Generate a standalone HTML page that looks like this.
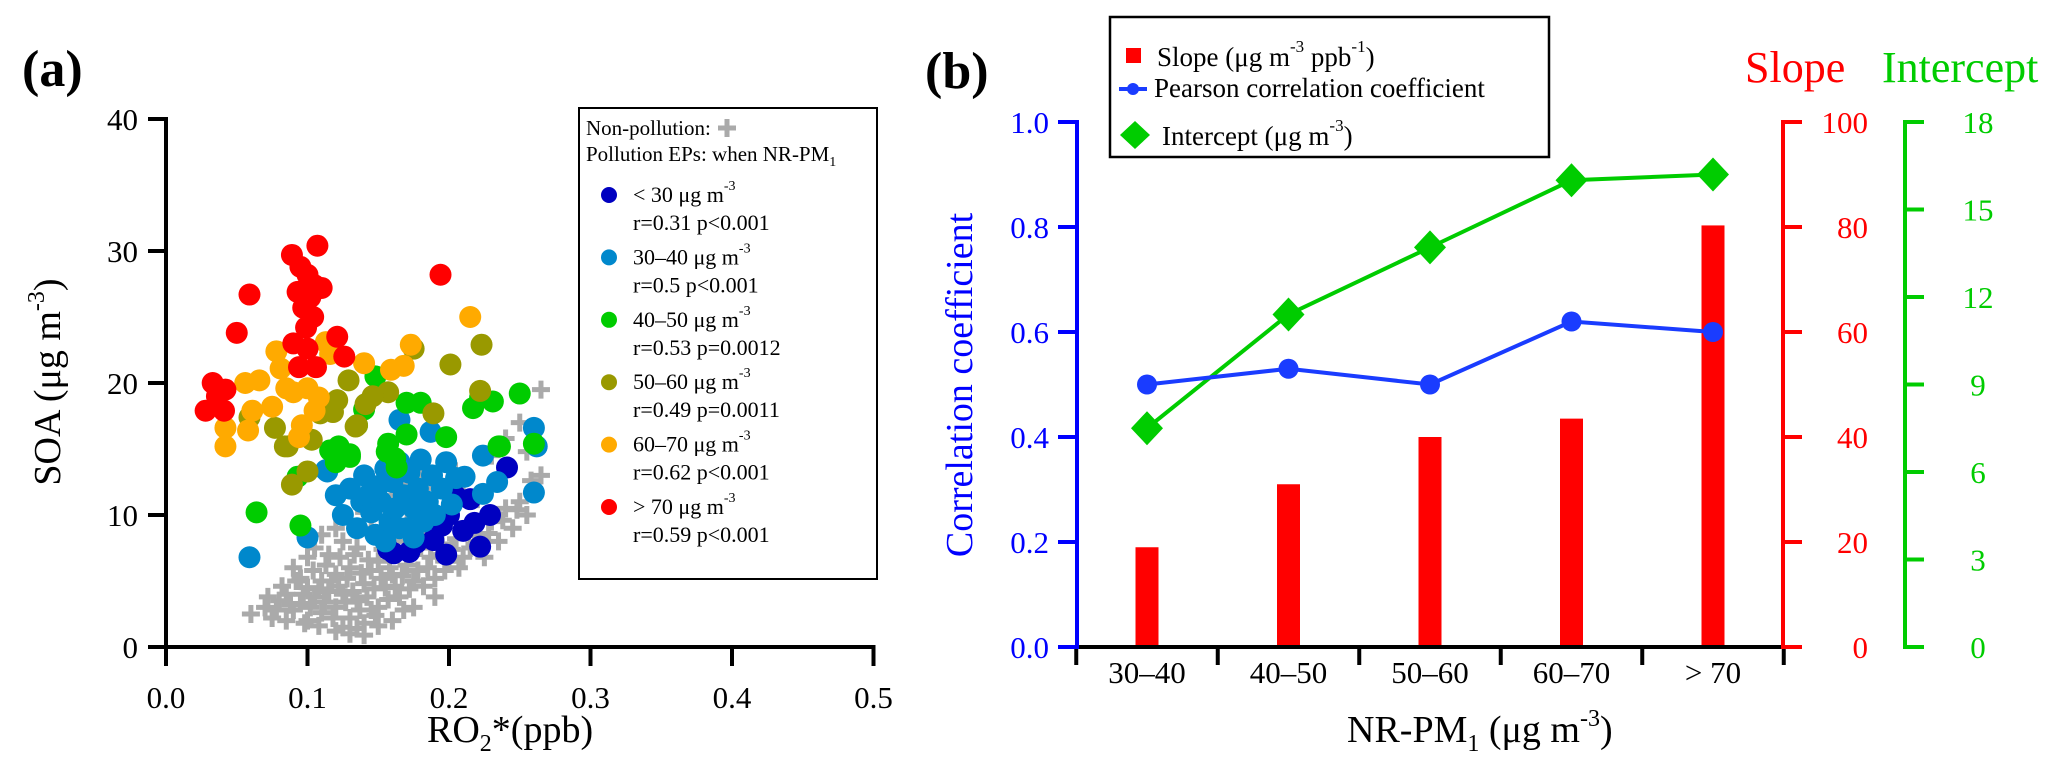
<!DOCTYPE html>
<html><head><meta charset="utf-8"><style>
html,body{margin:0;padding:0;background:#fff}
svg{display:block;font-family:"Liberation Serif",serif}
</style></head><body>
<svg id="fig" width="2067" height="770" viewBox="0 0 2067 770" xmlns="http://www.w3.org/2000/svg">
<g id="pa">
 <text x="22" y="86" font-size="52" font-weight="bold">(a)</text>
 <g id="pa-marks"></g>
 <line x1="166" y1="117" x2="166" y2="649" stroke="#000" stroke-width="4"/>
 <line x1="164" y1="647" x2="875" y2="647" stroke="#000" stroke-width="4"/>
 <g id="pa-axes"></g>
 <text transform="translate(60,382) rotate(-90)" text-anchor="middle" font-size="38">SOA (μg m<tspan dy="-16" font-size="24">-3</tspan><tspan dy="16">)</tspan></text>
 <text x="427" y="742" font-size="38">RO<tspan dy="9" font-size="24">2</tspan><tspan dy="-9">*(ppb)</tspan></text>
 <g>
  <rect x="579" y="108" width="298" height="471" fill="#fff" stroke="#000" stroke-width="2"/>
  <text x="586" y="135" font-size="21">Non-pollution:</text>
  <path d="M718 128h18M727 119v18" stroke="#aaa" stroke-width="5"/>
  <text x="586" y="161" font-size="21">Pollution EPs: when NR-PM<tspan dy="5" font-size="14">1</tspan></text>
  <g id="legend-items"></g>
 </g>
</g>
<g id="pb">
 <text x="925" y="88" font-size="52" font-weight="bold">(b)</text>
 <g id="pb-marks"></g>
 <g id="pb-axes"></g>
 <text transform="translate(972,385) rotate(-90)" text-anchor="middle" font-size="38" fill="#0000ff">Correlation coefficient</text>
 <text x="1745" y="82" font-size="44" fill="#ff0000">Slope</text>
 <text x="1882" y="82" font-size="44" fill="#00cc00">Intercept</text>
 <text x="1347" y="742" font-size="38">NR-PM<tspan dy="9" font-size="24">1</tspan><tspan dy="-9"> (μg m</tspan><tspan dy="-16" font-size="24">-3</tspan><tspan dy="16">)</tspan></text>
 <g>
  <rect x="1110" y="17" width="439" height="140" fill="#fff" stroke="#000" stroke-width="2.5"/>
  <rect x="1126" y="48" width="15" height="15" fill="#ff0000"/>
  <text x="1157" y="66" font-size="27">Slope (μg m<tspan dy="-14" font-size="17">-3</tspan><tspan dy="14"> ppb</tspan><tspan dy="-14" font-size="17">-1</tspan><tspan dy="14">)</tspan></text>
  <line x1="1119" y1="89" x2="1147" y2="89" stroke="#1a3cff" stroke-width="4"/>
  <circle cx="1133" cy="89" r="6" fill="#1a3cff"/>
  <text x="1154" y="97" font-size="27">Pearson correlation coefficient</text>
  <path d="M1135 121l15 14l-15 14l-15-14z" fill="#00cc00"/>
  <text x="1162" y="145" font-size="27">Intercept (μg m<tspan dy="-14" font-size="17">-3</tspan><tspan dy="14">)</tspan></text>
 </g>
</g>
</svg>
<script>
// ---------- Panel (a) data ----------
const grayPts = [[0.06,2.5],[0.07,3.0],[0.075,2.2],[0.08,3.5],[0.085,4.0],[0.09,2.8],[0.095,3.3],[0.1,4.5],[0.1,2.0],[0.105,3.8],[0.11,5.0],[0.11,2.6],[0.115,4.2],[0.12,3.0],[0.12,5.5],[0.125,1.5],[0.125,4.0],[0.13,2.2],[0.13,6.0],[0.135,3.5],[0.14,4.8],[0.14,1.8],[0.145,5.8],[0.15,3.0],[0.15,6.5],[0.155,4.5],[0.16,5.5],[0.16,7.0],[0.165,3.8],[0.17,6.2],[0.175,5.0],[0.18,7.5],[0.185,6.0],[0.19,5.2],[0.195,7.8],[0.2,6.5],[0.205,8.2],[0.21,6.8],[0.215,7.5],[0.22,8.5],[0.225,6.8],[0.23,9.5],[0.235,8.0],[0.24,10.5],[0.245,9.0],[0.25,11.0],[0.255,10.0],[0.26,12.0],[0.09,6.0],[0.095,5.2],[0.1,6.8],[0.105,7.5],[0.11,8.5],[0.115,7.0],[0.12,9.0],[0.125,8.0],[0.13,9.5],[0.135,7.5],[0.14,10.2],[0.145,9.0],[0.15,8.2],[0.155,10.5],[0.16,11.5],[0.17,12.5],[0.175,9.8],[0.18,13.2],[0.19,12.0],[0.2,13.8],[0.21,12.5],[0.22,11.2],[0.23,14.5],[0.24,15.8],[0.25,17.0],[0.265,19.5],[0.255,14.8],[0.265,13.0],[0.14,0.9],[0.13,1.0],[0.175,3.0],[0.16,2.0],[0.19,3.8],[0.12,1.2],[0.085,2.0],
 [0.072,3.8],[0.078,2.8],[0.082,4.6],[0.088,3.2],[0.092,5.0],[0.097,4.0],[0.102,3.0],[0.104,5.8],[0.108,4.4],[0.112,3.4],[0.113,6.2],[0.117,5.0],[0.118,2.2],[0.122,4.6],[0.123,6.8],[0.127,3.4],[0.128,5.2],[0.132,4.2],[0.133,7.0],[0.137,2.8],[0.138,5.6],[0.142,3.8],[0.143,6.6],[0.147,4.4],[0.148,2.4],[0.152,5.2],[0.153,7.4],[0.157,3.6],[0.158,6.0],[0.162,4.6],[0.163,8.0],[0.167,5.4],[0.168,2.8],[0.172,4.4],[0.173,7.2],[0.178,5.8],[0.182,4.6],[0.183,8.4],[0.187,6.8],[0.192,7.0],[0.197,5.8],[0.202,7.4],[0.207,6.0],[0.212,8.8],[0.218,7.8],[0.228,8.6],[0.238,9.6],[0.248,10.4],[0.258,12.6],[0.098,1.8],[0.108,1.6],[0.135,1.4],[0.15,1.6],[0.145,2.8]];
const darkBluePts = [[0.222,7.6],[0.198,7.0],[0.172,7.2],[0.157,7.4],[0.229,10.0],[0.218,9.4],[0.205,11.4],[0.241,13.6],[0.189,8.1],[0.21,8.8],[0.177,7.9],[0.161,7.1],[0.195,9.2],[0.215,11.2],[0.2,10.0]];
const lightBluePts = [[0.059,6.8],[0.1,8.3],[0.114,13.3],[0.187,16.3],[0.224,14.5],[0.211,12.9],[0.224,11.6],[0.234,12.5],[0.165,17.2],[0.26,16.6],[0.262,15.2],[0.26,11.7],[0.113,13.4],
 [0.12,11.5],[0.125,10.0],[0.13,12.0],[0.135,9.0],[0.138,11.0],[0.14,13.0],[0.145,10.2],[0.148,8.5],[0.15,12.2],[0.152,11.0],[0.155,13.5],[0.158,9.5],[0.16,12.5],[0.162,10.5],[0.165,14.0],[0.168,11.5],[0.17,9.0],[0.172,13.2],[0.175,10.5],[0.178,12.0],[0.18,14.2],[0.182,9.5],[0.185,11.0],[0.188,13.0],[0.19,10.0],[0.195,12.0],[0.198,14.0],[0.202,10.8],[0.205,12.8],[0.145,11.8],[0.165,9.0],[0.175,8.3],[0.155,8.0],[0.18,11.2]];
const greenPts = [[0.064,10.2],[0.095,9.2],[0.163,13.6],[0.156,14.8],[0.17,16.1],[0.198,15.9],[0.235,15.2],[0.13,14.4],[0.116,14.9],[0.093,12.9],[0.148,20.5],[0.17,18.5],[0.18,18.5],[0.217,18.1],[0.222,18.9],[0.231,18.6],[0.25,19.2],[0.236,15.2],[0.26,15.4],[0.135,16.8],[0.122,15.2],[0.13,14.6],[0.157,15.4],[0.162,14.3],[0.12,14.0],[0.14,18.0]];
const olivePts = [[0.223,22.9],[0.201,21.4],[0.222,19.4],[0.189,17.7],[0.175,22.6],[0.157,19.3],[0.146,19.0],[0.135,16.8],[0.129,20.2],[0.121,18.7],[0.118,17.8],[0.077,16.6],[0.086,15.2],[0.089,12.3],[0.1,13.3],[0.103,15.7],[0.109,17.7],[0.059,17.4],[0.141,18.4],[0.134,16.7],[0.084,15.2]];
const orangePts = [[0.215,25.0],[0.173,22.9],[0.159,21.0],[0.168,21.3],[0.14,21.5],[0.113,23.1],[0.078,22.4],[0.056,20.0],[0.066,20.2],[0.061,17.9],[0.075,18.2],[0.042,16.6],[0.042,15.2],[0.058,16.4],[0.085,19.6],[0.1,19.6],[0.105,17.9],[0.096,16.8],[0.094,15.9],[0.081,21.1],[0.108,18.9],[0.09,19.3],[0.116,22.2]];
const redPts = [[0.107,30.4],[0.089,29.7],[0.095,28.8],[0.1,28.2],[0.105,27.4],[0.093,26.9],[0.102,26.5],[0.11,27.2],[0.097,25.7],[0.104,25.0],[0.099,24.2],[0.09,23.0],[0.1,22.6],[0.094,21.2],[0.106,21.2],[0.121,23.5],[0.126,22.0],[0.194,28.2],[0.059,26.7],[0.05,23.8],[0.033,20.0],[0.042,19.5],[0.028,17.9],[0.041,17.9],[0.036,19.0]];
const aXTicks = [0,0.1,0.2,0.3,0.4,0.5];
const aXTickLabels = ["0.0","0.1","0.2","0.3","0.4","0.5"];
const aYTicks = [0,10,20,30,40];
const legendLabels = ["< 30  μg m","30–40  μg m","40–50  μg m","50–60  μg m","60–70  μg m","> 70 μg m"];
const legendStats = ["r=0.31 p<0.001","r=0.5   p<0.001","r=0.53 p=0.0012","r=0.49 p=0.0011"," r=0.62 p<0.001"," r=0.59 p<0.001"];
// ---------- Panel (b) data ----------
const categories = ["30–40","40–50","50–60","60–70","> 70"];
const slopeVals = [19,31,40,43.5,80.3];
const corrVals = [0.50,0.53,0.50,0.62,0.60];
const interceptVals = [7.5,11.4,13.7,16.0,16.2];
const corrTicks = [0,0.2,0.4,0.6,0.8,1.0];
const slopeTicks = [0,20,40,60,80,100];
const interceptTicks = [0,3,6,9,12,15,18];

const NS="http://www.w3.org/2000/svg";
function mk(tag,attrs,parent){const e=document.createElementNS(NS,tag);for(const k in attrs)e.setAttribute(k,attrs[k]);parent.appendChild(e);return e;}
const ax = v => 166 + v*1415;
const ay = v => 647 - v*13.2;
const bx = i => 1147 + i*141.5;
const byC = v => 647 - v*525;
const byS = v => 647 - v*5.25;
const byI = v => 647 - v*29.17;

const pm = document.getElementById('pa-marks');
grayPts.forEach(p=>{
  const e=mk('path',{d:`M${ax(p[0])-9} ${ay(p[1])}h18M${ax(p[0])} ${ay(p[1])-9}v18`,stroke:'#aaaaaa','stroke-width':5},pm);
  
  
});
const groups=[[darkBluePts,'#0000c0','lt30'],[lightBluePts,'#0088cc','30-40'],[greenPts,'#00cc00','40-50'],[olivePts,'#999900','50-60'],[orangePts,'#ffaa00','60-70'],[redPts,'#ff0000','gt70']];
groups.forEach(g=>{g[0].forEach(p=>{
  const e=mk('circle',{cx:ax(p[0]),cy:ay(p[1]),r:11,fill:g[1]},pm);
  
  
});});
const pax=document.getElementById('pa-axes');
aXTicks.forEach((t,i)=>{
  const l=mk('line',{x1:ax(t),y1:645,x2:ax(t),y2:666,stroke:'#000','stroke-width':4},pax);
  
  
  const tx=mk('text',{x:ax(t),y:708,'text-anchor':'middle','font-size':31},pax);tx.textContent=aXTickLabels[i];
  
  
});
aYTicks.forEach(t=>{
  const l=mk('line',{x1:148,y1:ay(t),x2:166,y2:ay(t),stroke:'#000','stroke-width':4},pax);
  
  
  const tx=mk('text',{x:138,y:ay(t)+11,'text-anchor':'end','font-size':31},pax);tx.textContent=String(t);
  
  
});
const li=document.getElementById('legend-items');
groups.forEach((g,i)=>{
  const cy=195+i*62.4;
  const c=mk('circle',{cx:609,cy:cy,r:8,fill:g[1]},li);
  
  
  const t=mk('text',{x:633,y:cy+7,'font-size':22},li);
  
  
  t.textContent=legendLabels[i];
  const s=mk('tspan',{dy:-12,'font-size':14},t);s.textContent='-3';
  const r=mk('text',{x:633,y:cy+35,'font-size':22},li);r.textContent=legendStats[i];
  
  
});

// ---------- Panel (b) ----------
const pbm=document.getElementById('pb-marks');
slopeVals.forEach((v,i)=>{
  const e=mk('rect',{x:bx(i)-11.5,y:byS(v),width:23,height:647-byS(v),fill:'#ff0000'},pbm);
  
  
});
const ip=mk('polyline',{points:interceptVals.map((v,i)=>bx(i)+','+byI(v)).join(' '),fill:'none',stroke:'#00cc00','stroke-width':4},pbm);


interceptVals.forEach((v,i)=>{
  const x=bx(i),y=byI(v);
  const e=mk('path',{d:`M${x} ${y-17}l16 17l-16 17l-16-17z`,fill:'#00cc00'},pbm);
  
  
});
const cp=mk('polyline',{points:corrVals.map((v,i)=>bx(i)+','+byC(v)).join(' '),fill:'none',stroke:'#1a3cff','stroke-width':4},pbm);


corrVals.forEach((v,i)=>{
  const e=mk('circle',{cx:bx(i),cy:byC(v),r:10,fill:'#1a3cff'},pbm);
  
  
});
const pba=document.getElementById('pb-axes');
let e;
e=mk('line',{x1:1075,y1:647,x2:1785,y2:647,stroke:'#000','stroke-width':4},pba);


for(let i=0;i<=categories.length;i++){
  e=mk('line',{x1:bx(i)-70.75,y1:647,x2:bx(i)-70.75,y2:665,stroke:'#000','stroke-width':4},pba);
  
  
}
categories.forEach((c,i)=>{
  const t=mk('text',{x:bx(i),y:683,'text-anchor':'middle','font-size':31},pba);t.textContent=c;
  
  
});
e=mk('line',{x1:1077,y1:120,x2:1077,y2:649,stroke:'#0000ff','stroke-width':4},pba);


corrTicks.forEach(t=>{
  let l=mk('line',{x1:1058,y1:byC(t),x2:1077,y2:byC(t),stroke:'#0000ff','stroke-width':4},pba);
  
  
  let tx=mk('text',{x:1049,y:byC(t)+11,'text-anchor':'end','font-size':31,fill:'#0000ff'},pba);tx.textContent=t.toFixed(1);
  
  
});
e=mk('line',{x1:1783,y1:120,x2:1783,y2:649,stroke:'#ff0000','stroke-width':4},pba);


slopeTicks.forEach(t=>{
  let l=mk('line',{x1:1783,y1:byS(t),x2:1802,y2:byS(t),stroke:'#ff0000','stroke-width':4},pba);
  
  
  let tx=mk('text',{x:1868,y:byS(t)+11,'text-anchor':'end','font-size':31,fill:'#ff0000'},pba);tx.textContent=String(t);
  
  
});
e=mk('line',{x1:1905,y1:120,x2:1905,y2:649,stroke:'#00cc00','stroke-width':4},pba);


interceptTicks.forEach(t=>{
  let l=mk('line',{x1:1905,y1:byI(t),x2:1924,y2:byI(t),stroke:'#00cc00','stroke-width':4},pba);
  
  
  let tx=mk('text',{x:1978,y:byI(t)+11,'text-anchor':'middle','font-size':31,fill:'#00cc00'},pba);tx.textContent=String(t);
  
  
});
</script>
</body></html>
